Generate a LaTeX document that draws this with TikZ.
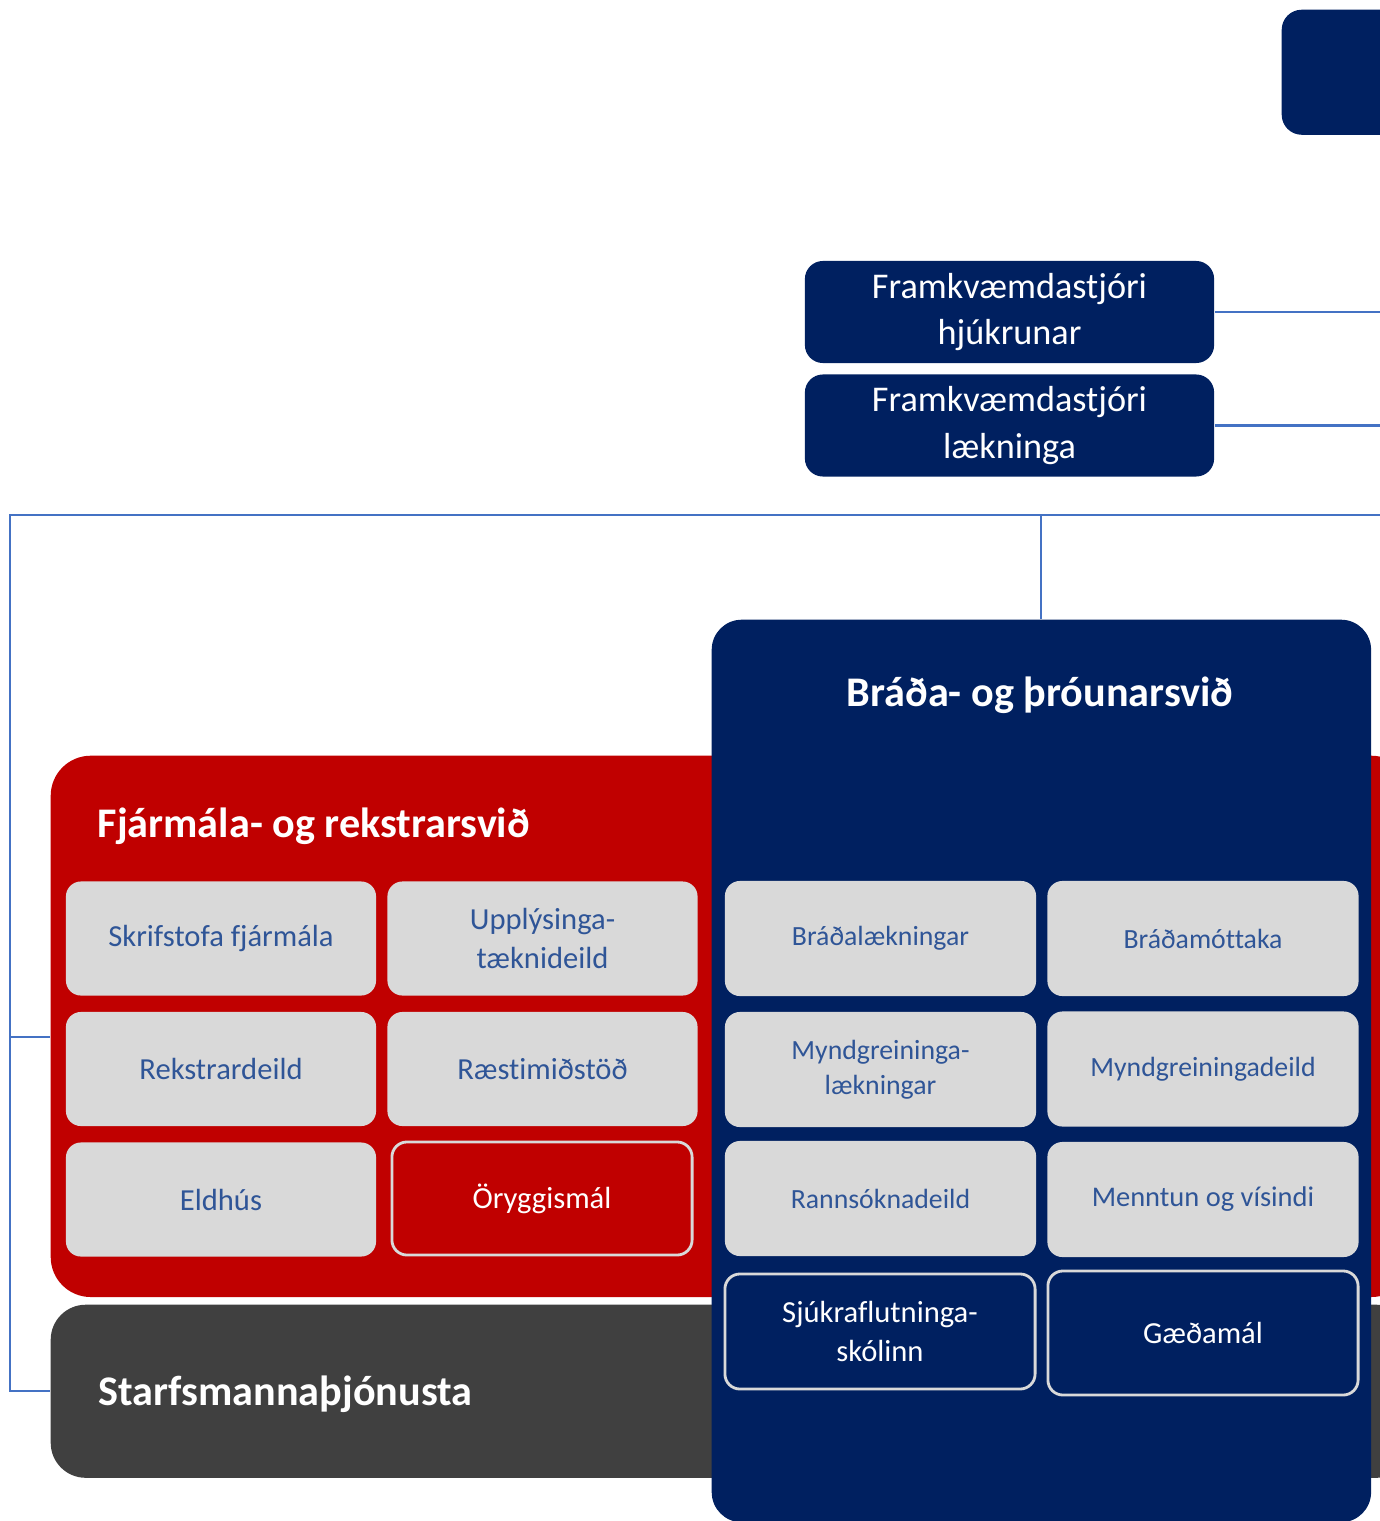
\documentclass[tikz,border=0pt]{standalone}
\usepackage{fontspec}
\setmainfont{Carlito}[Ligatures=NoCommon]
\definecolor{navy}{HTML}{002060}
\definecolor{darkred}{HTML}{C00000}
\definecolor{cellgray}{HTML}{D9D9D9}
\definecolor{hrgray}{HTML}{404040}
\definecolor{txtblue}{HTML}{2F5597}
\definecolor{linkblue}{HTML}{4472C4}
\tikzset{
  link/.style={draw=linkblue, line width=0.6pt},
  area/.style={rectangle, inner sep=0pt, anchor=north west},
  areatitle/.style={anchor=base west, text=white, inner sep=0pt, font=\fontsize{12}{14}\selectfont\bfseries},
  boss/.style={rectangle, fill=navy, rounded corners=0.18cm, text=white, align=center,
    minimum width=4.09cm, minimum height=1.02cm, inner sep=0pt, font=\fontsize{10.3}{13.3}\selectfont},
  cell/.style={rectangle, fill=cellgray, rounded corners=0.15cm, text=txtblue, align=center,
    minimum width=3.1cm, minimum height=1.14cm, inner sep=0pt, font=\fontsize{8.7}{10.9}\selectfont},
  ncell/.style={cell, minimum width=3.11cm, minimum height=1.15cm, font=\fontsize{7.9}{9.9}\selectfont},
  hcell/.style={cell, draw=cellgray, line width=0.8pt, text=white}
}
\begin{document}
\begin{tikzpicture}[x=0.01cm, y=-0.01cm]
\useasboundingbox (0,0) rectangle (1380,1521);

\node[area, fill=navy, rounded corners=0.2cm, minimum width=1.5cm, minimum height=1.25cm] (ceo) at (1281,9) {};
\node[boss] (fh) at (1009.5,312) {Framkvæmdastjóri\\hjúkrunar};
\node[boss] (fl) at (1009.5,425.5) {Framkvæmdastjóri\\lækninga};
\coordinate (fh-r) at (1380,312);
\coordinate (fl-r) at (1380,425.5);
\draw[link] (fh) -- (fh-r);
\draw[link] (fl) -- (fl-r);

% svid
\node[area, fill=darkred, rounded corners=0.4cm, minimum width=13.6cm, minimum height=5.41cm] (fin) at (50,755) {};
\node[area, fill=hrgray, rounded corners=0.35cm, minimum width=13.6cm, minimum height=1.73cm] (hr) at (50,1304) {};
\node[area, fill=navy, rounded corners=0.3cm, minimum width=6.59cm, minimum height=9.02cm] (bro) at (711,619) {};
\node[areatitle] (fin-t) at (97,837) {Fjármála- og rekstrarsvið};
\node[areatitle] (hr-t) at (98,1405) {Starfsmannaþjónusta};
\node[areatitle, anchor=base] (bro-t) at (1040,706) {Bráða- og þróunarsvið};

\coordinate (tl) at (10,515);
\coordinate (tr) at (1380,515);
\coordinate (fin-in) at (50,1037);
\draw[link] (tr) -- (tl) -- (tl |- hr.west) -- (hr.west);
\draw[link] (tl |- fin-in) -- (fin-in);
\draw[link] (bro.north) -- (bro.north |- tl);

% fjarmal
\node[cell] (skr) at (221,938.5) {Skrifstofa fjármála};
\node[cell] (upp) at (542.5,938.5) {Upplýsinga-\\tæknideild};
\node[cell] (rek) at (221,1069) {Rekstrardeild};
\node[cell] (rae) at (542.5,1069) {Ræstimiðstöð};
\node[cell] (eld) at (221,1199.5) {Eldhús};
\node[hcell, fill=darkred, minimum width=3.0cm, minimum height=1.13cm] (ory) at (542,1198.5) {Öryggismál};

% brada
\node[ncell] (bla) at (880.5,938.5) {Bráðalækningar};
\node[ncell] (bmo) at (1203,938.5) {Bráðamóttaka};
\node[ncell] (mgl) at (880.5,1069.5) {Myndgreininga-\\lækningar};
\node[ncell] (mgd) at (1203,1069) {Myndgreiningadeild};
\node[ncell] (ran) at (880.5,1198.5) {Rannsóknadeild};
\node[ncell, font=\fontsize{8.1}{10}\selectfont] (men) at (1203,1199.5) {Menntun og vísindi};
\node[hcell, fill=navy, minimum width=3.1cm, minimum height=1.15cm] (sjs) at (880,1331.5) {Sjúkraflutninga-\\skólinn};
\node[hcell, fill=navy, minimum width=3.1cm, minimum height=1.24cm] (gae) at (1203,1333) {Gæðamál};
\end{tikzpicture}
\end{document}
